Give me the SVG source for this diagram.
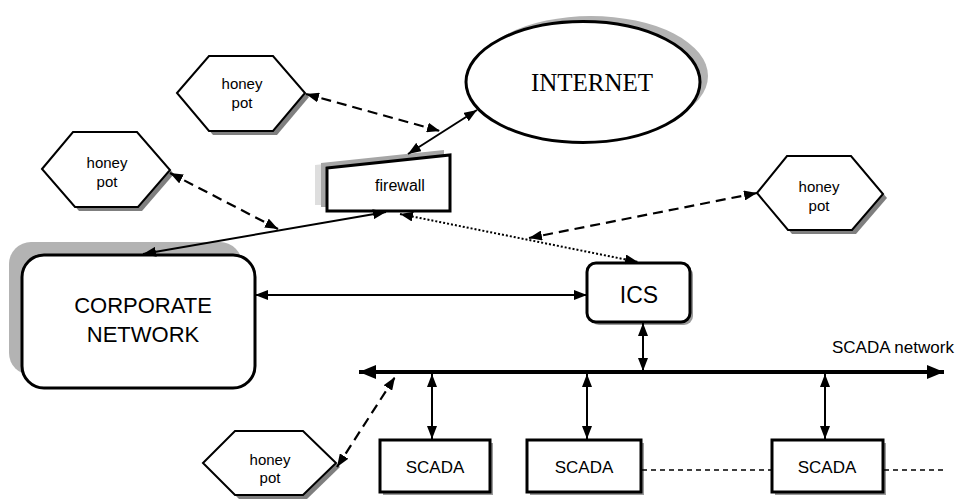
<svg xmlns="http://www.w3.org/2000/svg" width="966" height="499" viewBox="0 0 966 499">
<defs>
<marker id="ah" markerUnits="userSpaceOnUse" markerWidth="14" markerHeight="10" refX="13" refY="5" orient="auto-start-reverse"><path d="M0,0 L13,5 L0,10 z" fill="#000"/></marker>
<marker id="ahb" markerUnits="userSpaceOnUse" markerWidth="18" markerHeight="14" refX="17" refY="7" orient="auto-start-reverse"><path d="M0,0 L17,7 L0,14 z" fill="#000"/></marker>
</defs>
<style>
.hex{fill:#fff;stroke:#000;stroke-width:2}
.hsh{fill:#7f7f7f}
.t{font-family:"Liberation Sans",Arial,sans-serif;fill:#000;text-anchor:middle}
.sm{font-size:15px}
.box{fill:#fff;stroke:#000;stroke-width:3}
.c{fill:none;stroke:#000;stroke-width:2;marker-start:url(#ah);marker-end:url(#ah)}
.d{stroke-dasharray:10,6;stroke-width:2.2}
.dot{stroke-dasharray:2,2;stroke-width:2}
</style>

<g id="internet">
<ellipse cx="591" cy="76" rx="117" ry="60" fill="#b3b3b3"/>
<ellipse cx="583" cy="82" rx="117" ry="60.5" fill="#fff" stroke="#000" stroke-width="3"/>
<text x="592" y="91" font-family="'Liberation Serif','Times New Roman',serif" font-size="25" text-anchor="middle">INTERNET</text>
</g>

<g id="honeypot1">
<polygon class="hsh" points="181,97 213,60 277,60 309,97 277,135 213,135"/>
<polygon class="hex" points="177,93 209,56 273,56 305,93 273,131 209,131"/>
<text class="t sm" x="242" y="89">honey</text>
<text class="t sm" x="242" y="108">pot</text>
</g>

<g id="honeypot2">
<polygon class="hsh" points="46,173 77,136 141,136 174,174 142,211 79,211"/>
<polygon class="hex" points="42,169 73,132 137,132 170,170 138,207 75,207"/>
<text class="t sm" x="107" y="168">honey</text>
<text class="t sm" x="107" y="187">pot</text>
</g>

<g id="honeypot3">
<polygon class="hsh" points="761,197 791,160 855,160 887,198 856,234 792,234"/>
<polygon class="hex" points="757,193 787,156 851,156 883,194 852,230 788,230"/>
<text class="t sm" x="819" y="192">honey</text>
<text class="t sm" x="819" y="211">pot</text>
</g>

<g id="honeypot4">
<polygon class="hsh" points="207,467 239,435 307,435 340,467 307,499 239,499"/>
<polygon class="hex" points="203,463 235,431 303,431 336,463 303,495 235,495"/>
<text class="t sm" x="270" y="465">honey</text>
<text class="t sm" x="270" y="483">pot</text>
</g>

<g id="firewall">
<polygon points="315,165 438,152 438,205 315,205" fill="#dedede"/>
<polygon points="321,163 444,150 444,207 321,207" fill="#a6a6a6"/>
<polygon points="327,168 450,155 450,211 327,211" fill="#fff" stroke="#000" stroke-width="3"/>
<text class="t" x="400" y="191" font-size="16">firewall</text>
</g>

<g id="corporate">
<rect x="9" y="242" width="233" height="133" rx="22" fill="#b3b3b3"/>
<rect x="22" y="255" width="233" height="133" rx="22" class="box"/>
<text class="t" x="143" y="313" font-size="22">CORPORATE</text>
<text class="t" x="143" y="342" font-size="22">NETWORK</text>
</g>

<g id="ics">
<rect x="590" y="266" width="103" height="59" rx="9" fill="#9a9a9a"/>
<rect x="587" y="263" width="103" height="59" rx="9" class="box"/>
<text class="t" x="639" y="303" font-size="23">ICS</text>
</g>

<g id="scada-network">
<line x1="359" y1="372" x2="944" y2="372" stroke="#000" stroke-width="4" marker-start="url(#ahb)" marker-end="url(#ahb)"/>
<text x="832" y="353" font-family="'Liberation Sans',Arial,sans-serif" font-size="17">SCADA network</text>
</g>

<g id="scada1">
<rect x="383" y="443" width="110" height="52" fill="#9a9a9a"/>
<rect x="380" y="440" width="110" height="52" class="box" stroke-width="2.5"/>
<text class="t" x="435" y="473" font-size="17">SCADA</text>
</g>
<g id="scada2">
<rect x="530" y="443" width="114" height="52" fill="#9a9a9a"/>
<rect x="527" y="440" width="114" height="52" class="box" stroke-width="2.5"/>
<text class="t" x="584" y="473" font-size="17">SCADA</text>
</g>
<g id="scada3">
<rect x="775" y="443" width="111" height="52" fill="#9a9a9a"/>
<rect x="772" y="440" width="111" height="52" class="box" stroke-width="2.5"/>
<text class="t" x="827" y="473" font-size="17">SCADA</text>
</g>

<g id="connectors">
<line class="c" x1="408" y1="154" x2="477" y2="110"/>
<line class="c d" x1="306" y1="94" x2="440" y2="131"/>
<line class="c d" x1="170" y1="173" x2="278" y2="229"/>
<line class="c" x1="143" y1="254" x2="386" y2="212"/>
<line class="c dot" x1="400" y1="214" x2="638" y2="262"/>
<line class="c d" x1="757" y1="193" x2="529" y2="238"/>
<line class="c" x1="255" y1="295" x2="587" y2="295" stroke-width="1.5"/>
<line class="c" x1="643" y1="323" x2="643" y2="371"/>
<line class="c" x1="432" y1="374" x2="432" y2="439"/>
<line class="c" x1="587" y1="374" x2="587" y2="439"/>
<line class="c" x1="825" y1="374" x2="825" y2="439"/>
<line class="c d" x1="337" y1="467" x2="395" y2="377"/>
<line x1="642" y1="470" x2="772" y2="470" stroke="#000" stroke-width="1.5" stroke-dasharray="5,4"/>
<line x1="884" y1="470" x2="943" y2="470" stroke="#000" stroke-width="1.5" stroke-dasharray="5,4"/>
</g>
</svg>
